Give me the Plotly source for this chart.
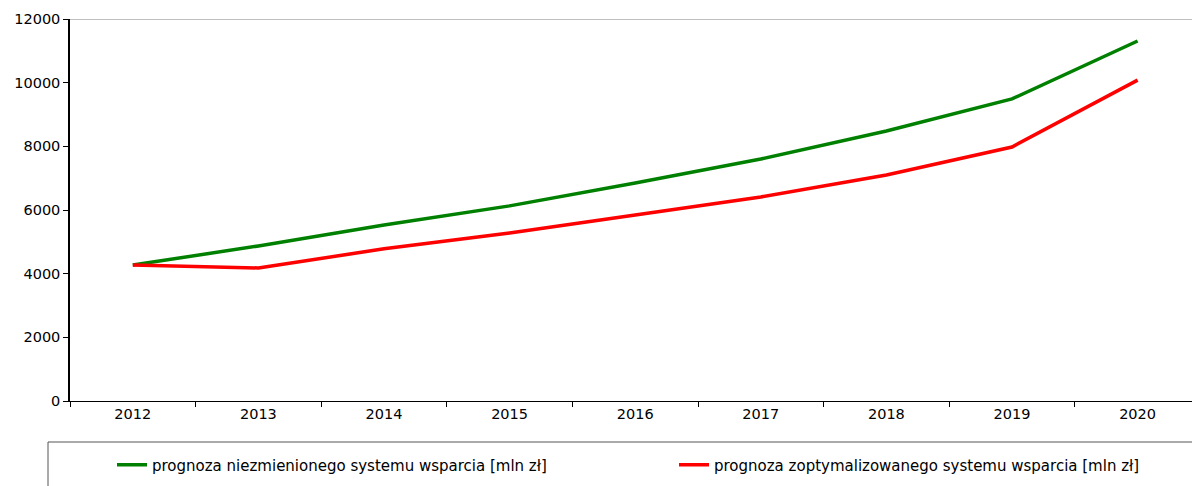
import plotly.graph_objects as go

years = ["2012", "2013", "2014", "2015", "2016", "2017", "2018", "2019", "2020"]
unchanged = [4270, 4870, 5530, 6130, 6850, 7600, 8480, 9490, 11310]
optimized = [4270, 4180, 4780, 5280, 5840, 6410, 7100, 7980, 10080]
y_ticks = [0, 2000, 4000, 6000, 8000, 10000, 12000]

name_unchanged = "prognoza niezmienionego systemu wsparcia [mln zł]"
name_optimized = "prognoza zoptymalizowanego systemu wsparcia [mln zł]"

W, H = 1192, 486
ML, MT, MB = 70, 19, 85
plot_w = W - ML
plot_h = H - MT - MB

def px_x(p):
    return (p - ML) / plot_w

def px_y(p):
    return (H - MB - p) / plot_h

font = dict(family="DejaVu Sans, Verdana, sans-serif", size=14.5, color="#000000")
legend_font = dict(family="DejaVu Sans, Verdana, sans-serif", size=15, color="#000000")

fig = go.Figure()
fig.add_trace(go.Scatter(
    x=years, y=unchanged, mode="lines", name=name_unchanged,
    line=dict(color="#008000", width=3.5), legend="legend",
))
fig.add_trace(go.Scatter(
    x=years, y=optimized, mode="lines", name=name_optimized,
    line=dict(color="#ff0000", width=3.5), legend="legend2",
))

band = 125.6
fig.update_layout(
    width=W, height=H,
    margin=dict(l=ML, r=0, t=MT, b=MB, pad=0),
    paper_bgcolor="white", plot_bgcolor="white",
    font=font,
    xaxis=dict(
        type="category",
        range=[-0.5, -0.5 + plot_w / band],
        showgrid=False, zeroline=False,
        showline=True, linecolor="#000000", linewidth=1,
        ticks="outside", tickson="boundaries", ticklen=5, tickcolor="#000000",
        tickfont=font,
    ),
    yaxis=dict(
        range=[0, 12000],
        tickvals=y_ticks,
        ticktext=[str(v) for v in y_ticks],
        showgrid=False, zeroline=False,
        showline=True, linecolor="#000000", linewidth=1.5,
        ticks="outside", ticklen=5, tickcolor="#000000",
        tickfont=font,
    ),
    legend=dict(
        x=px_x(112), y=px_y(465), xanchor="left", yanchor="middle",
        orientation="h", bgcolor="rgba(0,0,0,0)", font=legend_font,
        itemwidth=30,
    ),
    legend2=dict(
        x=px_x(674), y=px_y(465), xanchor="left", yanchor="middle",
        orientation="h", bgcolor="rgba(0,0,0,0)", font=legend_font,
        itemwidth=30,
    ),
    showlegend=True,
    shapes=[
        # top border of the plot area
        dict(type="line", xref="paper", yref="y", x0=0, x1=1, y0=12000, y1=12000,
             line=dict(color="#808080", width=1)),
        # legend frame
        dict(type="rect", xref="paper", yref="paper",
             x0=px_x(48), x1=1.05, y0=px_y(442), y1=px_y(520),
             line=dict(color="#555555", width=1), fillcolor="rgba(0,0,0,0)"),
    ],
)

fig.write_html("out.html")
